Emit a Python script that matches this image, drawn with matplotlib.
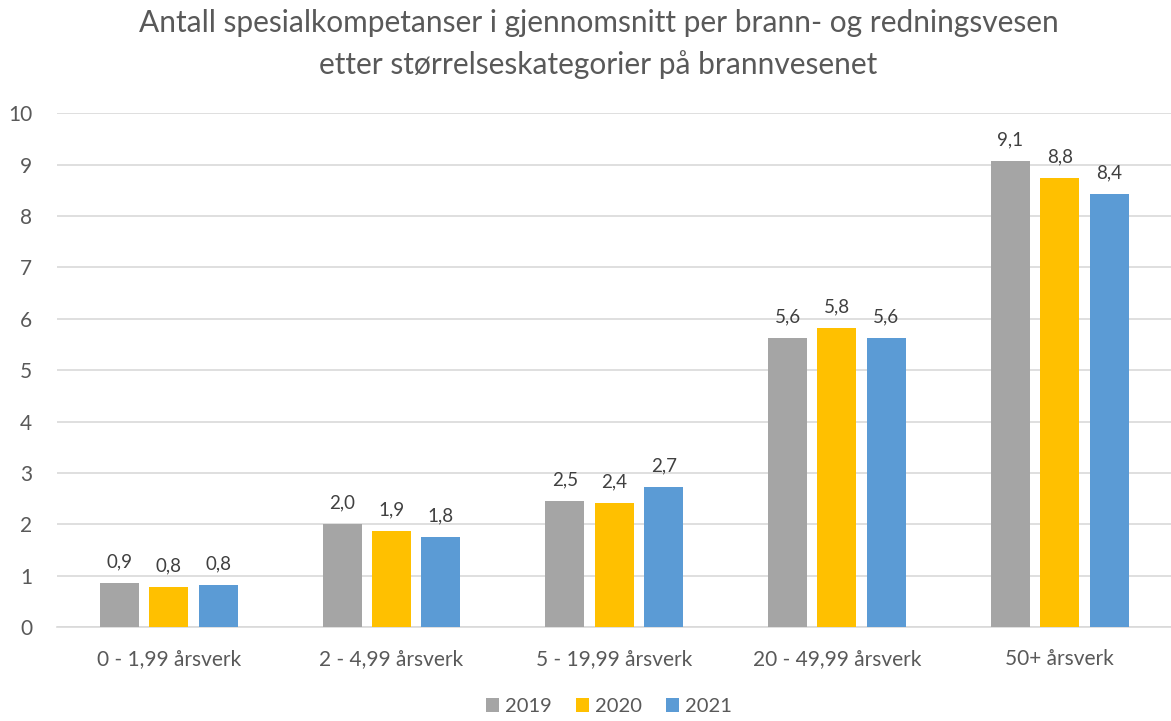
import numpy as np
import matplotlib
matplotlib.use("Agg")
import matplotlib.pyplot as plt

plt.rcParams['font.family'] = ['Lato', 'DejaVu Sans']

categories = ["0 - 1,99 årsverk", "2 - 4,99 årsverk", "5 - 19,99 årsverk",
              "20 - 49,99 årsverk", "50+ årsverk"]
years = ["2019", "2020", "2021"]

# bar heights
values_2019 = [0.86, 2.01, 2.45, 5.62, 9.07]
values_2020 = [0.78, 1.88, 2.42, 5.82, 8.74]
values_2021 = [0.82, 1.76, 2.73, 5.62, 8.43]

# data labels as printed on the chart
labels_2019 = ["0,9", "2,0", "2,5", "5,6", "9,1"]
labels_2020 = ["0,8", "1,9", "2,4", "5,8", "8,8"]
labels_2021 = ["0,8", "1,8", "2,7", "5,6", "8,4"]

colors = ["#A5A5A5", "#FFC000", "#5B9BD5"]
text_col = "#595959"

fig = plt.figure(figsize=(11.71, 7.21), dpi=100)
ax = fig.add_axes([0.049, 0.130, 0.951, 0.713])

x = np.arange(len(categories))
width = 0.175
step = 0.222
series = [(values_2019, labels_2019), (values_2020, labels_2020), (values_2021, labels_2021)]
for i, (vals, labs) in enumerate(series):
    bars = ax.bar(x + (i - 1) * step, vals, width, color=colors[i], label=years[i], zorder=3)
    for b, lab in zip(bars, labs):
        ax.annotate(lab, (b.get_x() + b.get_width() / 2, b.get_height()),
                    xytext=(0, 9), textcoords="offset points",
                    ha="center", va="bottom", fontsize=13.5, color="#404040")

ax.set_xlim(-0.5, 4.5)
ax.set_ylim(0, 10)
ax.set_yticks(range(0, 11))
ax.set_xticks(x)
ax.set_xticklabels(categories)
ax.tick_params(axis="both", length=0, labelsize=15, colors=text_col)
ax.tick_params(axis="y", pad=18)
ax.tick_params(axis="x", pad=16)
ax.grid(axis="y", color="#D9D9D9", linewidth=1.2, zorder=0)
for s in ["top", "right", "left"]:
    ax.spines[s].set_visible(False)
ax.spines["bottom"].set_color("#D9D9D9")
ax.spines["bottom"].set_linewidth(1.2)

fig.suptitle("Antall spesialkompetanser i gjennomsnitt per brann- og redningsvesen\n"
             "etter størrelseskategorier på brannvesenet",
             x=0.511, y=0.988, fontsize=21.5, color=text_col, linespacing=1.55)

fig.legend(loc="lower center", bbox_to_anchor=(0.52, -0.017), ncol=3, frameon=False,
           fontsize=14.5, labelcolor=text_col, handlelength=0.65, handleheight=0.65,
           handletextpad=0.3, columnspacing=1.2)

fig.savefig("out.png", dpi=100)
